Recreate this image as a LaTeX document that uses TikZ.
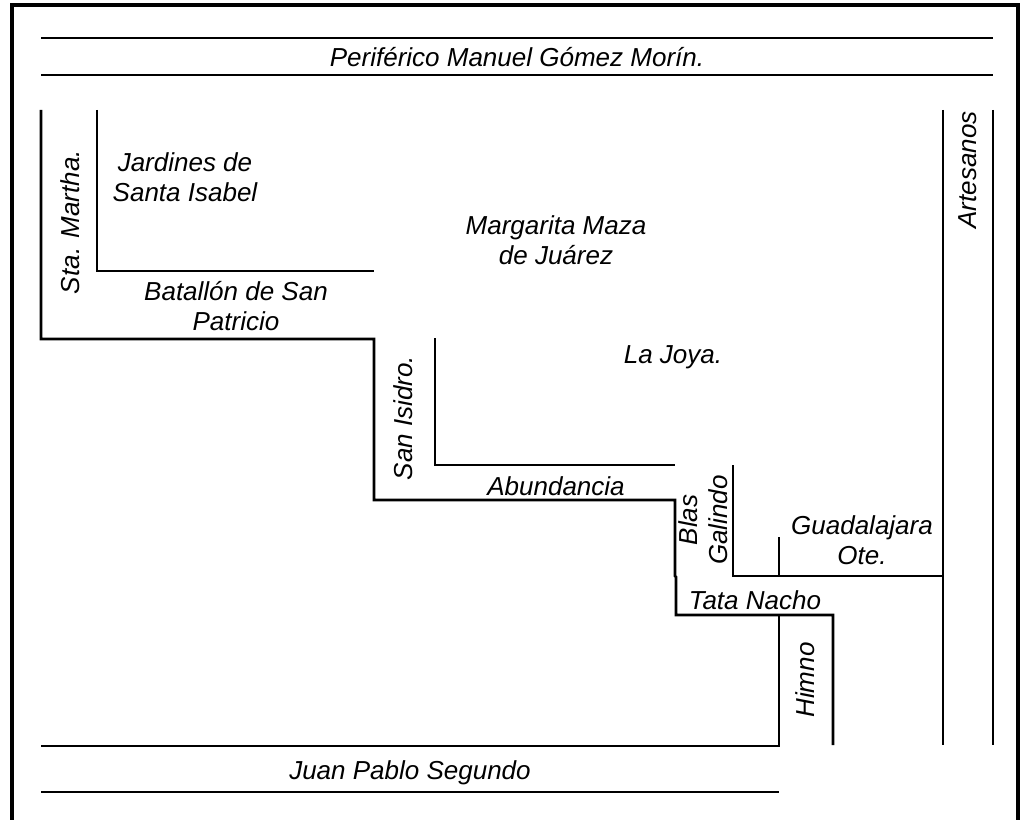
\documentclass[tikz,border=0pt]{standalone}
\usepackage{fontspec}
\setmainfont{Liberation Sans}
\usepackage{tikz}
\tikzset{
  street/.style={line width=2pt},
  lbl/.style={font=\fontsize{19.5}{22.5}\selectfont\itshape, inner sep=0pt, align=center},
}

\begin{document}
\begin{tikzpicture}[x=0.75pt, y=-0.75pt]
    \useasboundingbox (0, 0) rectangle (1021, 820);
    \draw[line width=2.4pt] (12, 830) -- (12, 5) -- (1018, 5) -- (1018, 830);
    \draw[line width=1.7pt] (41, 38) -- (993, 38);
    \draw[line width=1.7pt] (41, 75) -- (993, 75);
    \node[lbl] (periferico) at (517, 57) {Periférico Manuel Gómez Morín.};
    \draw[street] (41, 110) -- (41, 339) -- (374, 339) -- (374, 500) -- (675, 500) -- (675, 576) -- (676, 577) -- (676, 615) -- (833, 615) -- (833, 745);
    \draw[street] (97, 110) -- (97, 271) -- (374, 271);
    \draw[street] (435, 338) -- (435, 465) -- (675, 465);
    \draw[street] (733, 465) -- (733, 576) -- (943, 576);
    \draw[street] (779, 537) -- (779, 576);
    \draw[street] (41, 746) -- (779, 746) -- (779, 615);
    \draw[street] (943, 110) -- (943, 745);
    \draw[street] (993, 110) -- (993, 745);
    \draw[line width=1.7pt] (41, 792) -- (779, 792);
    \node[lbl] (jardines) at (185, 177) {Jardines de\\Santa Isabel};
    \node[lbl, rotate=90] (martha) at (70, 222) {Sta. Martha.};
    \node[lbl] (batallon) at (236, 306) {Batallón de San\\Patricio};
    \node[lbl] (margarita) at (556, 240) {Margarita Maza\\de Juárez};
    \node[lbl, rotate=90] (artesanos) at (968, 170) {Artesanos};
    \node[lbl, rotate=90] (isidro) at (403, 418) {San Isidro.};
    \node[lbl] (joya) at (673, 357) {La Joya.};
    \node[lbl] (abundancia) at (556, 486) {Abundancia};
    \node[lbl, rotate=90] (blas) at (703, 520) {Blas\\Galindo};
    \node[lbl] (guadalajara) at (862, 540) {Guadalajara\\Ote.};
    \node[lbl] (tata) at (755, 600) {Tata Nacho};
    \node[lbl, rotate=90] (himno) at (805, 680) {Himno};
    \node[lbl] (juan) at (410, 773) {Juan Pablo Segundo};
  \end{tikzpicture}
\end{document}
